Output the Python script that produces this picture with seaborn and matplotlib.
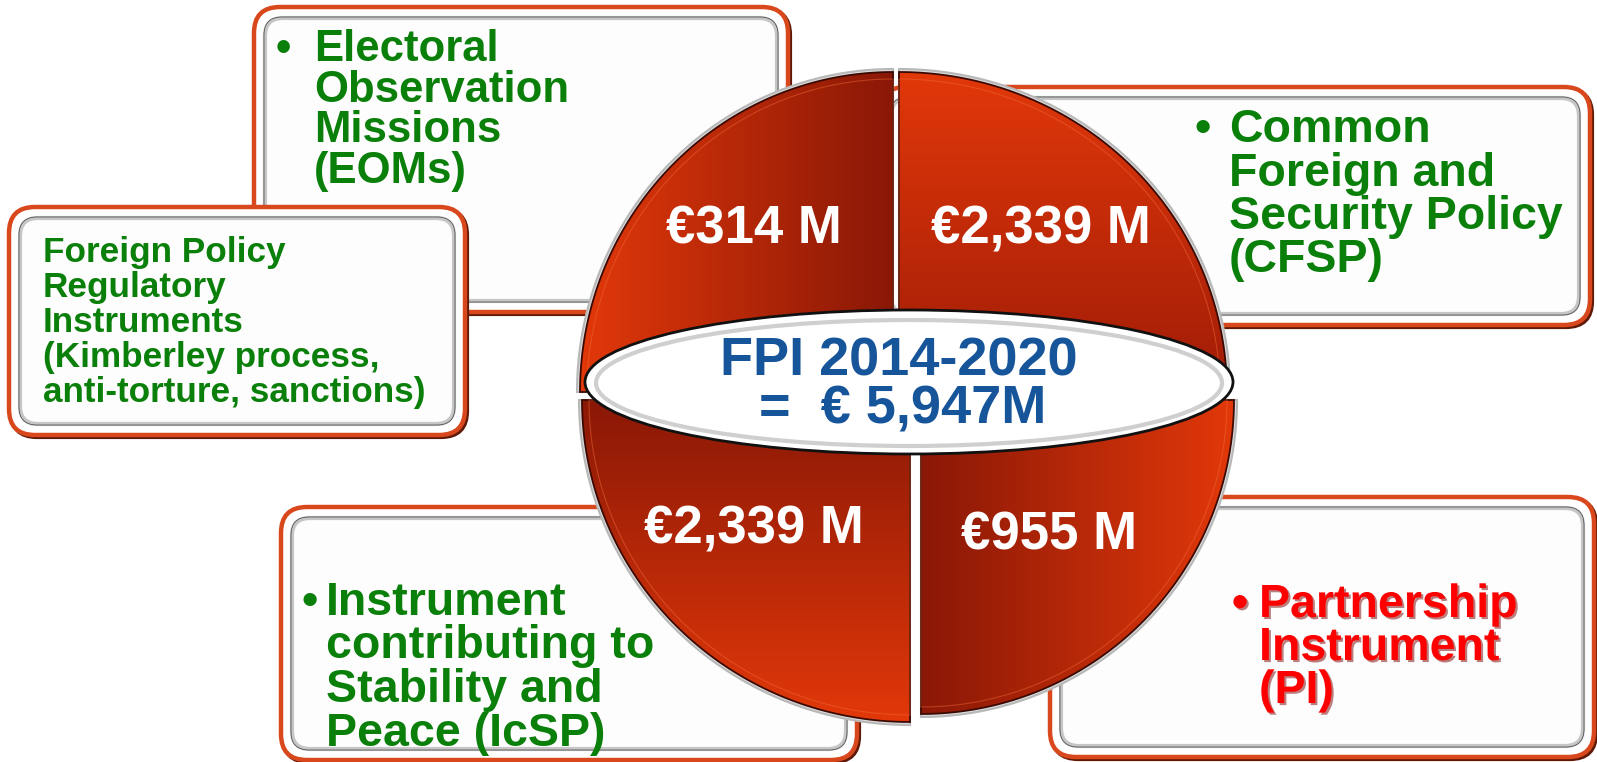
import numpy as np
import matplotlib
matplotlib.use('Agg')
import matplotlib.pyplot as plt
import seaborn as sns
from matplotlib.patches import Polygon, Ellipse, FancyBboxPatch
from matplotlib.colors import LinearSegmentedColormap
import matplotlib.patheffects as pe

# data
instruments = ['EOM', 'CFSP', 'IcSP', 'PI']
amounts_m = [314, 2339, 2339, 955]
total_title = 'FPI 2014-2020'
total_m = 5947

eom_lines = ['Electoral', 'Observation', 'Missions', '(EOMs)']
reg_lines = ['Foreign Policy', 'Regulatory', 'Instruments',
             '(Kimberley process,', 'anti-torture, sanctions)']
cfsp_lines = ['Common', 'Foreign and', 'Security Policy', '(CFSP)']
icsp_lines = ['Instrument', 'contributing to', 'Stability and', 'Peace (IcSP)']
pi_lines = ['Partnership', 'Instrument', '(PI)']

sns.set_theme(style='white')
plt.rcParams['font.family'] = ['Liberation Sans', 'DejaVu Sans']

W, H = 1597, 762
fig = plt.figure(figsize=(W / 100, H / 100), dpi=100)
ax = fig.add_axes([0, 0, 1, 1])
ax.set_xlim(0, W)
ax.set_ylim(H, 0)
ax.axis('off')

GREEN = '#0a7f0a'
BLUE = '#17559a'
BRIGHT = '#e2380a'
DARK = '#8a1806'


def box(x0, y0, x1, y1, z):
    style = 'round,pad=0,rounding_size=26'
    ax.add_patch(FancyBboxPatch((x0 + 2, y0 + 2), x1 - x0, y1 - y0, boxstyle=style,
                                fc='none', ec='#5e1a06', lw=3, zorder=z))
    ax.add_patch(FancyBboxPatch((x0, y0), x1 - x0, y1 - y0, boxstyle=style,
                                fc='white', ec='#d9481c', lw=3.2, zorder=z))
    inner = 'round,pad=0,rounding_size=18'
    ax.add_patch(FancyBboxPatch((x0 + 11, y0 + 11), x1 - x0 - 22, y1 - y0 - 22, boxstyle=inner,
                                fc='#fdfdfd', ec='#c6c6c6', lw=3, zorder=z))
    ax.add_patch(FancyBboxPatch((x0 + 10, y0 + 10), x1 - x0 - 20, y1 - y0 - 20, boxstyle=inner,
                                fc='none', ec='#555555', lw=0.6, zorder=z))


def lines_text(x, y0, step, lines, size, color, z, bullet_x=None, shadow=False):
    effects = None
    if shadow:
        effects = [pe.SimplePatchShadow(offset=(1.5, -1.5), shadow_rgbFace='#7a0000', alpha=0.5),
                   pe.Normal()]
    if bullet_x is not None:
        ax.text(bullet_x, y0, '•', fontsize=size, fontweight='bold', color=color,
                ha='center', va='baseline', zorder=z, path_effects=effects)
    for i, line in enumerate(lines):
        ax.text(x, y0 + i * step, line, fontsize=size, fontweight='bold', color=color,
                ha='left', va='baseline', zorder=z, path_effects=effects)


def quarter(cx, cy, rx, ry, t1, t2):
    a = np.radians(np.linspace(t1, t2, 90))
    pts = np.column_stack([cx + rx * np.cos(a), cy + ry * np.sin(a)])
    return np.vstack([[cx, cy], pts])


# boxes
box(254, 7, 788, 312, 1)
lines_text(314, 61, 40.5, eom_lines, 31.5, GREEN, 1.5, bullet_x=283)
box(9, 207, 465, 435, 2)
lines_text(43, 262, 35, reg_lines, 25.3, GREEN, 2.5)
box(880, 87, 1590, 325, 1)
lines_text(1229, 142, 43.5, cfsp_lines, 33.5, GREEN, 1.5, bullet_x=1203)
box(281, 507, 857, 760, 1)
lines_text(326, 615, 43.5, icsp_lines, 33.5, GREEN, 1.5, bullet_x=310)
box(1050, 497, 1594, 757, 1)
lines_text(1259, 617, 43, pi_lines, 33.5, '#ff0000', 1.5, bullet_x=1240, shadow=True)

# quadrants: apex, radii, angles, gradient direction, colours
quads = [
    ((893, 392), 313, 320, 180, 270, 'h', [BRIGHT, DARK]),
    ((899, 392), 328, 320, 270, 360, 'v', [BRIGHT, '#a01c07']),
    ((910, 400), 328, 322, 90, 180, 'v', [DARK, BRIGHT]),
    ((921, 400), 313, 314, 0, 90, 'h', [DARK, BRIGHT]),
]
label_positions = [(754, 229), (1041, 229), (754, 530), (1049, 535)]

for k, ((cx, cy), rx, ry, t1, t2, d, cols) in enumerate(quads):
    ax.add_patch(Polygon(quarter(cx, cy, rx + 3, ry + 3, t1, t2), closed=True,
                         fc='#dcdcdc', ec='#b8b8b8', lw=1.5, zorder=5))
    pts = quarter(cx, cy, rx, ry, t1, t2)
    clip = Polygon(pts, closed=True, fc='none', ec='none', zorder=5)
    ax.add_patch(clip)
    grad = np.linspace(0, 1, 256)
    grad = grad[None, :] if d == 'h' else grad[:, None]
    cmap = LinearSegmentedColormap.from_list('q%d' % k, cols)
    im = ax.imshow(grad, cmap=cmap,
                   extent=(pts[:, 0].min(), pts[:, 0].max(), pts[:, 1].max(), pts[:, 1].min()),
                   origin='upper', aspect='auto', zorder=5.1, interpolation='bicubic')
    im.set_clip_path(clip)
    ax.add_patch(Polygon(pts, closed=True, fc='none', ec='#3a0a02', lw=1.3, zorder=5.2))
    ax.add_patch(Polygon(quarter(cx, cy, rx - 7, ry - 7, t1, t2), closed=True, fc='none',
                         ec='#f26a3a', lw=0.8, alpha=0.45, zorder=5.2))
    lx, ly = label_positions[k]
    ax.text(lx, ly, f'€{amounts_m[k]:,} M', fontsize=38, fontweight='bold',
            color='white', ha='center', va='center', zorder=6)

ax.set_xlim(0, W)
ax.set_ylim(H, 0)

# central ellipse
ax.add_patch(Ellipse((909, 382), 648, 144, fc='white', ec='#111111', lw=2, zorder=7))
ax.add_patch(Ellipse((909, 383), 626, 126, fc='white', ec='#cfcfcf', lw=3, zorder=7.1))
ax.text(899, 376, total_title, fontsize=39, fontweight='bold', color=BLUE,
        ha='center', va='baseline', zorder=8)
ax.text(903, 424, f'=  € {total_m:,}M', fontsize=39, fontweight='bold', color=BLUE,
        ha='center', va='baseline', zorder=8)

fig.savefig('out.png', dpi=100, facecolor='white')
